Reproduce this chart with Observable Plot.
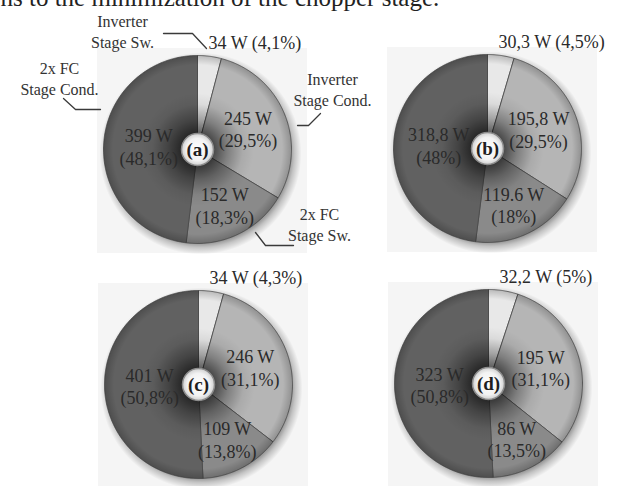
<!DOCTYPE html>
<html><head><meta charset="utf-8">
<script src="https://cdn.jsdelivr.net/npm/d3@7"></script>
<script src="https://cdn.jsdelivr.net/npm/@observablehq/plot@0.6"></script>
<style>body{margin:0;background:#fff;} svg{display:block;}</style>
</head><body><div id="chart"></div>
<script>
// ---------- data ----------
const panels = ["(a)", "(b)", "(c)", "(d)"];
const categories = ["Inverter Stage Sw.", "Inverter Stage Cond.", "2x FC Stage Sw.", "2x FC Stage Cond."];
const valuesA = [34, 245, 152, 399];
const valuesB = [30.3, 195.8, 119.6, 318.8];
const valuesC = [34, 246, 109, 401];
const valuesD = [32.2, 195, 86, 323];
const wattsA = ["34 W", "245 W", "152 W", "399 W"];
const wattsB = ["30,3 W", "195,8 W", "119.6 W", "318,8 W"];
const wattsC = ["34 W", "246 W", "109 W", "401 W"];
const wattsD = ["32,2 W", "195 W", "86 W", "323 W"];
const pctA = [4.1, 29.5, 18.3, 48.1];
const pctB = [4.5, 29.5, 18, 48];
const pctC = [4.3, 31.1, 13.8, 50.8];
const pctD = [5, 31.1, 13.5, 50.8];
const calloutTexts = ["Inverter\nStage Sw.", "Inverter\nStage Cond.", "2x FC\nStage Sw.", "2x FC\nStage Cond."];
const caption = "ns to the minimization of the chopper stage.";

// ---------- layout / style ----------
const W = 617, H = 486, R = 94;
const centers = [[197, 149], [487, 148], [198, 384], [488, 383]];
const colors = ["#e8e8e8", "#b5b5b5", "#8a8a8a", "#616161"];
const labelRadius = [1, 0.58, 0.66, 0.52];
const serif = "'Liberation Serif', 'DejaVu Serif', serif";
// callouts around panel (a): text anchor and leader polyline (pixels)
const calloutLayout = [
  {text: [122, 30], line: [[163, 33], [192, 33], [206, 48]]},
  {text: [332, 88], line: [[320, 113], [308, 125], [297, 125]]},
  {text: [319, 223], line: [[255, 232], [265, 245], [293, 245]]},
  {text: [59, 77], line: [[63, 98], [75, 109], [100, 109]]}
];

const series = [
  {panel: panels[0], values: valuesA, watts: wattsA, pct: pctA},
  {panel: panels[1], values: valuesB, watts: wattsB, pct: pctB},
  {panel: panels[2], values: valuesC, watts: wattsC, pct: pctC},
  {panel: panels[3], values: valuesD, watts: wattsD, pct: pctD}
];
const fmtPct = v => "(" + String(v).replace(".", ",") + "%)";

const slicePts = [], sliceLabels = [], topLabels = [], hubs = [], boxes = [];
series.forEach((s, i) => {
  const [cx, cy] = centers[i];
  boxes.push({x1: cx - 100, x2: cx + 110, y1: cy - 101, y2: Math.min(H, cy + 104)});
  hubs.push({x: cx, y: cy, text: s.panel});
  const arcs = d3.pie().sort(null).value(d => d)(s.values);
  arcs.forEach((a, j) => {
    const id = s.panel + j, cat = categories[j];
    slicePts.push({id, cat, x: cx, y: cy});
    const n = Math.max(2, Math.ceil((a.endAngle - a.startAngle) / 0.01));
    for (let k = 0; k <= n; k++) {
      const t = a.startAngle + (a.endAngle - a.startAngle) * k / n;
      slicePts.push({id, cat, x: cx + R * Math.sin(t), y: cy - R * Math.cos(t)});
    }
    slicePts.push({id, cat, x: cx, y: cy});
    if (j === 0) {
      topLabels.push({x: cx, y: cy, text: s.watts[0] + " " + fmtPct(s.pct[0])});
    } else {
      const m = (a.startAngle + a.endAngle) / 2, rr = R * labelRadius[j];
      sliceLabels.push({x: cx + rr * Math.sin(m), y: cy - rr * Math.cos(m), text: s.watts[j] + "\n" + fmtPct(s.pct[j])});
    }
  });
});
const callouts = calloutLayout.map((c, j) => ({x: c.text[0], y: c.text[1], text: calloutTexts[j]}));
const leaderPts = calloutLayout.flatMap((c, j) => c.line.map(([x, y]) => ({id: j, x, y})));

const svg = Plot.plot({
  width: W, height: H,
  margin: 0,
  x: {domain: [0, W], range: [0, W], axis: null},
  y: {domain: [0, H], range: [0, H], axis: null},
  color: {domain: categories, range: colors},
  style: {fontFamily: serif, background: "#fff"},
  marks: [
    Plot.rect(boxes, {x1: "x1", x2: "x2", y1: "y1", y2: "y2", fill: "#f5f5f5"}),
    Plot.dot(hubs, {x: "x", y: "y", r: R + 7, dx: 3, dy: 4, fill: "url(#rimShadow)", stroke: null}),
    Plot.line(slicePts, {x: "x", y: "y", z: "id", fill: "cat", stroke: "#4a4a4a", strokeWidth: 0.8, curve: "linear"}),
    Plot.dot(hubs, {x: "x", y: "y", r: R, fill: "url(#centerShade)", stroke: null}),
    Plot.text(sliceLabels, {x: "x", y: "y", text: "text", fontSize: 18, lineHeight: 1.25, fill: "#2a2a2a", lineAnchor: "middle"}),
    Plot.dot(hubs, {x: "x", y: "y", r: 16, fill: "url(#hubFill)", stroke: "#8c8c8c", strokeWidth: 1.5}),
    Plot.text(hubs, {x: "x", y: "y", text: "text", fontSize: 19, fill: "#1e1e1e", fontWeight: "bold"}),
    Plot.text(topLabels, {x: "x", y: "y", text: "text", dx: 11, dy: -106, textAnchor: "start", fontSize: 18, fill: "#2a2a2a"}),
    Plot.line(leaderPts, {x: "x", y: "y", z: "id", stroke: "#3a3a3a", strokeWidth: 1.3}),
    Plot.text(callouts, {x: "x", y: "y", text: "text", fontSize: 16, lineHeight: 1.35, fill: "#333"}),
    Plot.text([caption], {frameAnchor: "top-left", text: d => d, dy: 5, lineAnchor: "bottom", textAnchor: "start", fontSize: 25, fill: "#222"})
  ]
});

// gradients used by the shading marks
const defs = d3.create("svg:defs");
function grad(id, stops) {
  const g = defs.append("radialGradient").attr("id", id);
  stops.forEach(([o, c, a]) => g.append("stop").attr("offset", o).attr("stop-color", c).attr("stop-opacity", a));
}
grad("rimShadow", [[0, "#000", 0.5], [0.86, "#000", 0.5], [0.93, "#000", 0.2], [1, "#000", 0]]);
grad("centerShade", [[0, "#000", 0.78], [0.18, "#000", 0.58], [0.32, "#000", 0.3], [0.48, "#000", 0.06], [0.6, "#000", 0], [0.9, "#000", 0], [1, "#000", 0.2]]);
grad("hubFill", [[0, "#ffffff", 1], [0.7, "#f2f2f2", 1], [1, "#cfcfcf", 1]]);
svg.insertBefore(defs.node(), svg.firstChild);
document.getElementById("chart").appendChild(svg);
</script>
</body></html>
